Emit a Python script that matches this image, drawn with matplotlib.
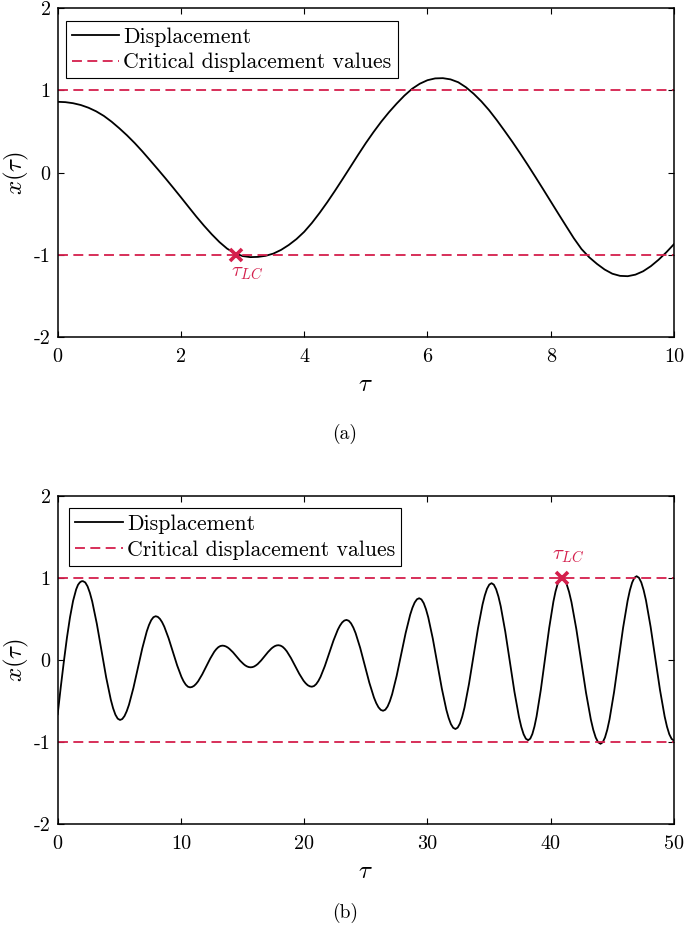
import matplotlib
matplotlib.use('Agg')
import matplotlib.pyplot as plt

plt.rcParams['font.family'] = ['cmr10', 'DejaVu Serif']
plt.rcParams['mathtext.fontset'] = 'cm'
plt.rcParams['axes.unicode_minus'] = False
plt.rcParams['axes.formatter.use_mathtext'] = True

# ---------------- data ----------------
top_tau = [0, 0.125, 0.25, 0.375, 0.5, 0.625, 0.75, 0.875, 1.0, 1.125,
           1.25, 1.375, 1.5, 1.625, 1.75, 1.875, 2.0, 2.125, 2.25, 2.375,
           2.5, 2.625, 2.75, 2.875, 3.0, 3.125, 3.25, 3.375, 3.5, 3.625,
           3.75, 3.875, 4.0, 4.125, 4.25, 4.375, 4.5, 4.625, 4.75, 4.875,
           5.0, 5.125, 5.25, 5.375, 5.5, 5.625, 5.75, 5.875, 6.0, 6.125,
           6.25, 6.375, 6.5, 6.625, 6.75, 6.875, 7.0, 7.125, 7.25, 7.375,
           7.5, 7.625, 7.75, 7.875, 8.0, 8.125, 8.25, 8.375, 8.5, 8.625,
           8.75, 8.875, 9.0, 9.125, 9.25, 9.375, 9.5, 9.625, 9.75, 9.875,
           10.0]
top_x = [0.862, 0.858, 0.845, 0.823, 0.79, 0.746, 0.69, 0.62, 0.54, 0.454,
         0.36, 0.258, 0.15, 0.041, -0.07, -0.184, -0.30, -0.418, -0.535,
         -0.646, -0.75, -0.845, -0.925, -0.980, -1.015, -1.028, -1.025,
         -1.012, -0.985, -0.94, -0.88, -0.808, -0.72, -0.612, -0.49, -0.359,
         -0.22, -0.076, 0.07, 0.217, 0.36, 0.494, 0.62, 0.735, 0.84, 0.937,
         1.02, 1.082, 1.125, 1.147, 1.15, 1.135, 1.10, 1.039, 0.96, 0.867,
         0.76, 0.639, 0.51, 0.378, 0.24, 0.097, -0.05, -0.199, -0.35,
         -0.501, -0.65, -0.798, -0.93, -1.03, -1.11, -1.179, -1.23, -1.256,
         -1.26, -1.241, -1.20, -1.138, -1.06, -0.97, -0.87]

bottom_tau = [
    0, 0.25, 0.5, 0.75, 1.0, 1.25, 1.5, 1.65, 1.8, 1.93,
    2.05, 2.238, 2.426, 2.614, 2.803, 3.179, 3.555, 3.931, 4.308, 4.496, 4.684, 4.872,
    5.06, 5.241, 5.421, 5.602, 5.783, 6.144, 6.505, 6.866, 7.228, 7.408, 7.589, 7.769,
    7.95, 8.124, 8.299, 8.473, 8.648, 8.996, 9.345, 9.694, 10.043, 10.217, 10.391, 10.566,
    10.74, 10.904, 11.068, 11.231, 11.395, 11.723, 12.05, 12.378, 12.705, 12.869, 13.033, 13.196,
    13.36, 13.504, 13.648, 13.791, 13.935, 14.223, 14.51, 14.798, 15.085, 15.229, 15.373, 15.516,
    15.66, 15.801, 15.941, 16.082, 16.223, 16.504, 16.785, 17.066, 17.348, 17.488, 17.629, 17.769,
    17.91, 18.079, 18.249, 18.418, 18.588, 18.926, 19.265, 19.604, 19.943, 20.112, 20.281, 20.451,
    20.62, 20.796, 20.971, 21.147, 21.323, 21.674, 22.025, 22.376, 22.728, 22.903, 23.079, 23.254,
    23.43, 23.616, 23.801, 23.987, 24.173, 24.544, 24.915, 25.286, 25.658, 25.843, 26.029, 26.214,
    26.4, 26.583, 26.766, 26.949, 27.133, 27.499, 27.865, 28.231, 28.598, 28.781, 28.964, 29.147,
    29.33, 29.514, 29.698, 29.881, 30.065, 30.433, 30.80, 31.168, 31.535, 31.719, 31.903, 32.086,
    32.27, 32.453, 32.636, 32.819, 33.003, 33.369, 33.735, 34.101, 34.468, 34.651, 34.834, 35.017,
    35.2, 35.386, 35.571, 35.757, 35.943, 36.314, 36.685, 37.056, 37.428, 37.613, 37.799, 37.984,
    38.17, 38.341, 38.511, 38.682, 38.853, 39.194, 39.535, 39.876, 40.218, 40.388, 40.559, 40.729,
    40.9, 41.096, 41.293, 41.489, 41.685, 42.078, 42.47, 42.863, 43.255, 43.451, 43.648, 43.844,
    44.04, 44.223, 44.406, 44.589, 44.773, 45.139, 45.505, 45.871, 46.238, 46.421, 46.604, 46.787,
    46.97, 47.159, 47.349, 47.538, 47.728, 48.106, 48.485, 48.864, 49.243, 49.432, 49.621, 49.811,
    50.0]
bottom_x = [
    -0.66, -0.33, -0.02, 0.27, 0.52, 0.72, 0.86, 0.915, 0.945, 0.958,
    0.96, 0.944, 0.896, 0.817, 0.712, 0.439, 0.115, -0.209, -0.482, -0.587, -0.666, -0.714,
    -0.73, -0.718, -0.682, -0.623, -0.545, -0.340, -0.099, 0.143, 0.348, 0.426, 0.485, 0.521,
    0.533, 0.525, 0.500, 0.460, 0.406, 0.266, 0.100, -0.066, -0.206, -0.260, -0.300, -0.325,
    -0.333, -0.328, -0.314, -0.290, -0.259, -0.176, -0.079, 0.018, 0.101, 0.132, 0.156, 0.170,
    0.175, 0.1725, 0.165, 0.153, 0.136, 0.094, 0.043, -0.008, -0.050, -0.067, -0.079, -0.0865,
    -0.089, -0.0865, -0.079, -0.066, -0.050, -0.006, 0.0455, 0.097, 0.141, 0.157, 0.170, 0.1775,
    0.18, 0.175, 0.161, 0.137, 0.106, 0.024, -0.073, -0.169, -0.251, -0.282, -0.306, -0.320,
    -0.325, -0.317, -0.294, -0.256, -0.206, -0.074, 0.082, 0.237, 0.369, 0.419, 0.457, 0.480,
    0.488, 0.4775, 0.446, 0.3945, 0.326, 0.147, -0.065, -0.277, -0.456, -0.5245, -0.576, -0.6075,
    -0.618, -0.605, -0.566, -0.502, -0.417, -0.195, 0.067, 0.329, 0.551, 0.636, 0.700, 0.739,
    0.752, 0.737, 0.692, 0.6175, 0.519, 0.261, -0.044, -0.349, -0.607, -0.7055, -0.780, -0.825,
    -0.84, -0.823, -0.773, -0.690, -0.580, -0.292, 0.048, 0.387, 0.675, 0.785, 0.868, 0.918,
    0.935, 0.917, 0.862, 0.7735, 0.655, 0.345, -0.021, -0.386, -0.696, -0.8145, -0.903, -0.958,
    -0.976, -0.957, -0.901, -0.809, -0.686, -0.366, 0.012, 0.390, 0.711, 0.833, 0.925, 0.981,
    1.0, 0.981, 0.923, 0.829, 0.704, 0.377, -0.01, -0.397, -0.724, -0.849, -0.943, -1.001,
    -1.02, -1.001, -0.942, -0.848, -0.721, -0.391, 0.0, 0.391, 0.721, 0.848, 0.942, 1.001,
    1.02, 1.001, 0.944, 0.851, 0.727, 0.403, 0.02, -0.363, -0.687, -0.811, -0.904, -0.961,
    -0.98]

critical_levels = [1, -1]
tau_lc_top = (2.9, -1.0)
tau_lc_bottom = (40.9, 1.0)

top_xticks = [0, 2, 4, 6, 8, 10]
bottom_xticks = [0, 10, 20, 30, 40, 50]
yticks = [-2, -1, 0, 1, 2]
ytick_labels = ['-2', '-1', '0', '1', '2']

RED = '#D41F4C'

fig = plt.figure(figsize=(6.85, 9.33), dpi=100)
ax1 = fig.add_axes([0.0842, 0.6388, 0.8997, 0.3523])
ax2 = fig.add_axes([0.0842, 0.1165, 0.8997, 0.3522])


def style(ax, xticks, xmax, legend_anchor):
    ax.set_xlim(0, xmax)
    ax.set_ylim(-2, 2)
    ax.set_xticks(xticks, [str(t) for t in xticks])
    ax.set_yticks(yticks, ytick_labels)
    ax.tick_params(direction='in', top=True, right=True, length=4.5,
                   width=0.8, labelsize=14.5)
    ax.tick_params(axis='x', pad=8)
    ax.tick_params(axis='y', pad=5)
    for s in ax.spines.values():
        s.set_linewidth(1.1)
    leg = ax.legend(loc='upper left', bbox_to_anchor=legend_anchor,
                    borderaxespad=0, fontsize=15.7, frameon=True,
                    fancybox=False, framealpha=1, edgecolor='black',
                    handlelength=2.17, handletextpad=0.2, borderpad=0.28,
                    labelspacing=0.28)
    leg.get_frame().set_linewidth(0.8)
    ax.text(-0.0665, 0.5, r'$x(\tau)$', transform=ax.transAxes, fontsize=18,
            rotation=90, ha='center', va='center')
    ax.text(0.5, -0.145, r'$\tau$', transform=ax.transAxes, fontsize=18,
            ha='center', va='center')


for ax, tau, xs, lc, xticks, xmax, anchor, lab_xy in [
        (ax1, top_tau, top_x, tau_lc_top, top_xticks, 10, (0.013, 0.961),
         (3.07, -1.22)),
        (ax2, bottom_tau, bottom_x, tau_lc_bottom, bottom_xticks, 50,
         (0.0188, 0.9617), (41.4, 1.27))]:
    ax.plot(tau, xs, color='black', lw=1.3, label='Displacement')
    for i, lev in enumerate(critical_levels):
        ax.axhline(lev, color=RED, lw=1.3, dashes=(5.5, 3.0),
                   label='Critical displacement values' if i == 0 else None)
    ax.plot([lc[0]], [lc[1]], marker='x', color=RED, ms=9, mew=2.6,
            linestyle='none', zorder=5)
    ax.text(lab_xy[0], lab_xy[1], r'$\tau_{LC}$', color=RED, fontsize=15,
            ha='center', va='center')
    style(ax, xticks, xmax, anchor)

fig.text(0.5036, 0.5348, '(a)', fontsize=14, ha='center', va='center')
fig.text(0.5036, 0.0214, '(b)', fontsize=14, ha='center', va='center')

fig.savefig('out.png', dpi=100)
